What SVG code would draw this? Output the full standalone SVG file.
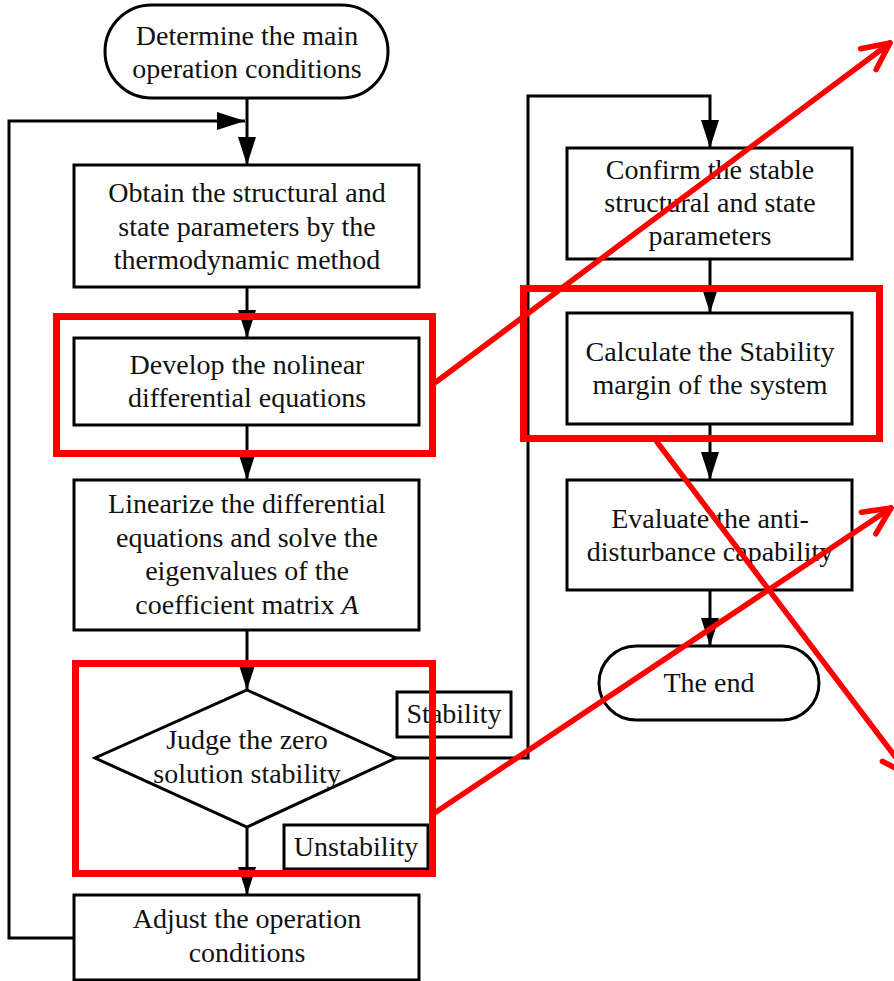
<svg xmlns="http://www.w3.org/2000/svg" width="894" height="981" viewBox="0 0 894 981">
<style>
.box{fill:#fff;stroke:#000;stroke-width:3}
.t{font-family:"Liberation Serif","Times New Roman",serif;font-size:28px;fill:#111;text-anchor:middle}
.c{fill:none;stroke:#000;stroke-width:3}
.hl{fill:none;stroke:#ff0000;stroke-width:7}
.ra{fill:none;stroke:#ff0000;stroke-width:5.5;stroke-linecap:round}
</style>
<defs>
<marker id="ah" markerUnits="userSpaceOnUse" markerWidth="30" markerHeight="20" refX="28" refY="9" orient="auto" overflow="visible">
<path d="M0,0 L28,9 L0,18 Z" fill="#000"/>
</marker>
<marker id="ra" markerUnits="userSpaceOnUse" markerWidth="32" markerHeight="32" refX="30" refY="15" orient="auto" overflow="visible">
<path d="M3,2 L30,15 L3,28" fill="none" stroke="#ff0000" stroke-width="5.5" stroke-linecap="round" stroke-linejoin="round"/>
</marker>
</defs>
<rect width="894" height="981" fill="#fff"/>
<g id="connectors">
<line class="c" x1="247" y1="98" x2="247" y2="165" marker-end="url(#ah)"/>
<polyline class="c" points="74,938 9,938 9,121 245,121" marker-end="url(#ah)"/>
<line class="c" x1="247" y1="287" x2="247" y2="338" marker-end="url(#ah)"/>
<line class="c" x1="247" y1="425" x2="247" y2="480" marker-end="url(#ah)"/>
<line class="c" x1="247" y1="630" x2="247" y2="690" marker-end="url(#ah)"/>
<line class="c" x1="247" y1="827" x2="247" y2="895" marker-end="url(#ah)"/>
<polyline class="c" points="396,758 528,758 528,96 710,96 710,148" marker-end="url(#ah)"/>
<line class="c" x1="710" y1="259" x2="710" y2="313" marker-end="url(#ah)"/>
<line class="c" x1="710" y1="424" x2="710" y2="480" marker-end="url(#ah)"/>
<line class="c" x1="710" y1="590" x2="710" y2="646" marker-end="url(#ah)"/>
</g>
<g id="start">
<rect class="box" x="105" y="5" width="283" height="93" rx="46.5" ry="46.5"/>
<text class="t" x="247" y="45">Determine the main</text>
<text class="t" x="247" y="78">operation conditions</text>
</g>
<g id="obtain">
<rect class="box" x="74" y="165" width="345" height="122"/>
<text class="t" x="247" y="202">Obtain the structural and</text>
<text class="t" x="247" y="235.5">state parameters by the</text>
<text class="t" x="247" y="269">thermodynamic method</text>
</g>
<g id="develop">
<rect class="box" x="74" y="338" width="345" height="87"/>
<text class="t" x="247" y="374">Develop the nolinear</text>
<text class="t" x="247" y="407">differential equations</text>
</g>
<g id="linearize">
<rect class="box" x="74" y="480" width="345" height="150"/>
<text class="t" x="247" y="513">Linearize the differential</text>
<text class="t" x="247" y="546.5">equations and solve the</text>
<text class="t" x="247" y="580">eigenvalues of the</text>
<text class="t" x="247" y="613.5">coefficient matrix <tspan font-style="italic">A</tspan></text>
</g>
<g id="judge">
<polygon class="box" points="247,690 396,758 247,827 95,758"/>
<text class="t" x="247" y="749">Judge the zero</text>
<text class="t" x="247" y="783">solution stability</text>
</g>
<g id="label-stability">
<rect class="box" x="397" y="692" width="114" height="45"/>
<text class="t" x="454" y="723">Stability</text>
</g>
<g id="label-unstability">
<rect class="box" x="284" y="825" width="144" height="44"/>
<text class="t" x="356" y="856">Unstability</text>
</g>
<g id="adjust">
<rect class="box" x="74" y="895" width="345" height="85"/>
<text class="t" x="247" y="928">Adjust the operation</text>
<text class="t" x="247" y="962">conditions</text>
</g>
<g id="confirm">
<rect class="box" x="567" y="148" width="285" height="111"/>
<text class="t" x="710" y="179">Confirm the stable</text>
<text class="t" x="710" y="212">structural and state</text>
<text class="t" x="710" y="245">parameters</text>
</g>
<g id="calculate">
<rect class="box" x="567" y="313" width="285" height="111"/>
<text class="t" x="710" y="361">Calculate the Stability</text>
<text class="t" x="710" y="394">margin of the system</text>
</g>
<g id="evaluate">
<rect class="box" x="567" y="480" width="285" height="110"/>
<text class="t" x="710" y="528">Evaluate the anti-</text>
<text class="t" x="710" y="561">disturbance capability</text>
</g>
<g id="end">
<rect class="box" x="599" y="646" width="220" height="74" rx="37" ry="37"/>
<text class="t" x="709" y="692">The end</text>
</g>
<g id="highlights">
<rect class="hl" x="56.5" y="316.5" width="376" height="137"/>
<rect class="hl" x="75.5" y="663.5" width="357" height="210"/>
<rect class="hl" x="523.5" y="288.5" width="356" height="150"/>
<line class="ra" x1="436" y1="382" x2="890" y2="43" marker-end="url(#ra)"/>
<line class="ra" x1="657" y1="442" x2="909" y2="775" marker-end="url(#ra)"/>
<line class="ra" x1="436" y1="812" x2="891" y2="508" marker-end="url(#ra)"/>
</g>
</svg>
